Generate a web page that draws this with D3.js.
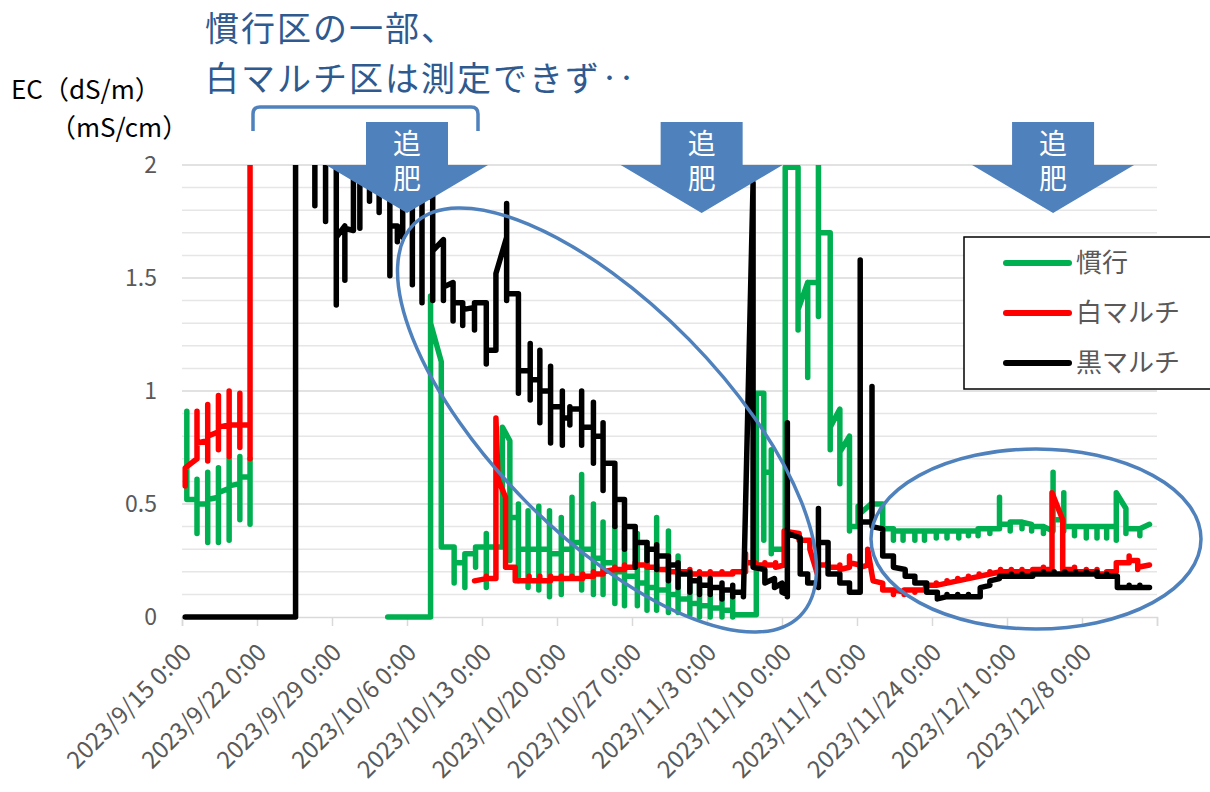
<!DOCTYPE html>
<html><head><meta charset="utf-8">
<script src="https://cdn.jsdelivr.net/npm/d3@7"></script>
<style>
body{margin:0;background:#fff;}
svg{display:block;font-family:"Noto Sans CJK JP","Noto Sans",sans-serif;}
</style>
</head><body>
<svg id="chart" width="1210" height="792"></svg>
<script>
// ---------- data ----------
const startDate = new Date(2023, 8, 15);
const endDate = new Date(2023, 11, 15);
const tickLabels = ["2023/9/15 0:00","2023/9/22 0:00","2023/9/29 0:00","2023/10/6 0:00","2023/10/13 0:00","2023/10/20 0:00","2023/10/27 0:00","2023/11/3 0:00","2023/11/10 0:00","2023/11/17 0:00","2023/11/24 0:00","2023/12/1 0:00","2023/12/8 0:00"];
const yTickValues = [0, 0.5, 1, 1.5, 2];
const yTitle = ["EC（dS/m）", "（mS/cm）"];
const seriesNames = ["慣行", "白マルチ", "黒マルチ"];
const seriesColors = ["#00B050", "#FF0000", "#000000"];
const noteLines = ["慣行区の一部、", "白マルチ区は測定できず‥"];
const arrowLabel = "追肥";
const arrowDays = [21, 48.5, 81.3]; // 追肥 timing (days after 9/15)

// each entry: [day offset from 9/15, values visited at that time...]; null = gap
const kanko = [
 [0.45, 0.91, 0.52],
 [1.4, 0.52, 0.61, 0.37, 0.50],
 [2.4, 0.50, 0.64, 0.33, 0.52],
 [3.4, 0.53, 0.66, 0.33, 0.55],
 [4.4, 0.57, 0.70, 0.34, 0.58],
 [5.4, 0.59, 0.71, 0.43, 0.62],
 [6.35, 0.62, 0.41, 0.70],
 null,
 [19.2, 0],
 [23.2, 0, 1.42, 0.55, 1.30],
 [24.2, 1.13, 0.31],
 [25.4, 0.31, 0.15, 0.24],
 [26.4, 0.24, 0.13, 0.28],
 [27.4, 0.28, 0.22, 0.31],
 [28.4, 0.31, 0.37, 0.13, 0.31],
 [29.9, 0.31, 0.84],
 [30.6, 0.78, 0.25, 0.44],
 [31.4, 0.44, 0.50, 0.16, 0.30],
 [32.3, 0.30, 0.47, 0.13, 0.30],
 [33.3, 0.30, 0.49, 0.12, 0.30],
 [34.3, 0.30, 0.47, 0.09, 0.28],
 [35.4, 0.28, 0.44, 0.10, 0.30],
 [36.4, 0.30, 0.53, 0.18, 0.33],
 [37.3, 0.33, 0.63, 0.12, 0.30],
 [38.4, 0.30, 0.50, 0.10, 0.26],
 [39.3, 0.26, 0.42, 0.10, 0.24],
 [40.4, 0.24, 0.40, 0.06, 0.20],
 [41.3, 0.20, 0.38, 0.05, 0.18],
 [42.5, 0.18, 0.37, 0.05, 0.15],
 [43.4, 0.15, 0.33, 0.03, 0.13],
 [44.3, 0.13, 0.44, 0.03, 0.12],
 [45.4, 0.12, 0.38, 0.02, 0.10],
 [46.3, 0.10, 0.27, 0.02, 0.08],
 [47.4, 0.08, 0.19, 0.01, 0.06],
 [48.3, 0.06, 0.15, 0.0, 0.05],
 [49.3, 0.05, 0.13, 0.0, 0.04],
 [50.4, 0.04, 0.12, 0.0, 0.03],
 [51.4, 0.03, 0.09, 0.0, 0.01],
 [53.6, 0.01, 0.99],
 [54.3, 0.99, 0.34, 0.64],
 [55.0, 0.64, 0.74, 0.28, 0.30],
 [56.3, 0.30, 1.99],
 [57.5, 1.99, 1.27, 1.36],
 [58.4, 1.48, 1.06, 1.48],
 [59.4, 1.48, 2.1, 1.33, 1.70],
 [60.5, 1.70, 0.74, 0.84],
 [61.4, 0.92, 0.59, 0.73],
 [62.3, 0.80, 0.38, 0.40],
 [63.1, 0.40, 0.49, 0.45],
 [64.3, 0.50],
 [65.4, 0.50, 0.39],
 [66.4, 0.39, 0.34, 0.38],
 [67.3, 0.38, 0.34, 0.38],
 [68.4, 0.38, 0.34, 0.38],
 [69.3, 0.38, 0.34, 0.38],
 [70.4, 0.38, 0.35, 0.38],
 [71.4, 0.38, 0.35, 0.38],
 [72.5, 0.38, 0.35, 0.38],
 [73.4, 0.38, 0.36, 0.38],
 [74.3, 0.38, 0.36, 0.39],
 [75.4, 0.39, 0.37, 0.39],
 [76.3, 0.39, 0.53, 0.41],
 [77.3, 0.41, 0.38, 0.42],
 [78.4, 0.42, 0.39, 0.42],
 [79.3, 0.41, 0.38, 0.40],
 [80.4, 0.40, 0.37, 0.40],
 [81.3, 0.38, 0.64, 0.43],
 [82.3, 0.43, 0.55, 0.38, 0.40],
 [83.3, 0.40, 0.36, 0.40],
 [84.4, 0.40, 0.35, 0.40],
 [85.4, 0.40, 0.35, 0.40],
 [86.3, 0.40, 0.35, 0.40],
 [87.2, 0.40, 0.34, 0.55],
 [88.1, 0.48, 0.37, 0.39],
 [89.4, 0.39, 0.36, 0.39],
 [90.3, 0.41]
];

const shiro = [
 [0.3, 0.58, 0.66],
 [1.4, 0.70, 0.91, 0.70, 0.77],
 [2.4, 0.78, 0.94, 0.69, 0.80],
 [3.4, 0.82, 0.98, 0.74, 0.84],
 [4.4, 0.85, 1.0, 0.71, 0.85],
 [5.4, 0.85, 0.99, 0.75, 0.85],
 [6.35, 0.85, 0.70, 2.1],
 null,
 [27.3, 0.16],
 [28.4, 0.17, 0.18, 0.17],
 [29.3, 0.17, 0.88],
 [29.5, 0.61],
 [30.2, 0.53, 0.22],
 [31.1, 0.22, 0.16],
 [32.4, 0.16, 0.18, 0.16],
 [33.4, 0.16, 0.18, 0.16],
 [34.4, 0.16, 0.18, 0.17],
 [35.4, 0.17, 0.18, 0.17],
 [36.4, 0.17, 0.18, 0.17],
 [37.4, 0.17, 0.19, 0.18],
 [38.4, 0.18, 0.20, 0.19],
 [39.3, 0.19, 0.21, 0.20],
 [40.4, 0.21, 0.22, 0.21],
 [41.3, 0.21, 0.23, 0.22],
 [42.3, 0.22, 0.24, 0.23],
 [43.4, 0.23, 0.24, 0.22],
 [44.3, 0.22, 0.23, 0.21],
 [45.4, 0.21, 0.22, 0.20],
 [46.3, 0.20, 0.21, 0.20],
 [47.4, 0.20, 0.21, 0.19],
 [48.3, 0.19, 0.20, 0.19],
 [49.3, 0.19, 0.20, 0.19],
 [50.4, 0.19, 0.20, 0.19],
 [51.4, 0.19, 0.20, 0.20],
 [52.6, 0.20, 0.28, 0.24],
 [53.5, 0.24, 0.23],
 [54.4, 0.23, 0.24, 0.23],
 [55.4, 0.23, 0.24, 0.22],
 [56.2, 0.23, 0.38],
 [57.6, 0.37, 0.34],
 [58.6, 0.34, 0.30],
 [59.3, 0.19, 0.23],
 [60.3, 0.23, 0.24, 0.22],
 [61.4, 0.22, 0.23, 0.21],
 [62.3, 0.22, 0.27, 0.24],
 [63.3, 0.23, 0.22],
 [64.0, 0.23, 0.30],
 [64.5, 0.16],
 [65.4, 0.15, 0.12],
 [66.4, 0.12, 0.10, 0.12],
 [67.4, 0.11, 0.10, 0.12],
 [68.4, 0.12, 0.11, 0.12],
 [69.4, 0.12, 0.14],
 [70.4, 0.14, 0.15, 0.14],
 [71.4, 0.15, 0.16, 0.15],
 [72.4, 0.16, 0.17, 0.16],
 [73.4, 0.17, 0.18, 0.17],
 [74.4, 0.18, 0.19, 0.18],
 [75.4, 0.19, 0.20, 0.19],
 [76.4, 0.20, 0.21, 0.20],
 [77.4, 0.20, 0.21, 0.20],
 [78.4, 0.20, 0.21, 0.20],
 [79.4, 0.20, 0.21, 0.21],
 [80.4, 0.21, 0.22, 0.21],
 [81.2, 0.21, 0.55],
 [82.2, 0.43, 0.21],
 [83.3, 0.21, 0.22, 0.20],
 [84.4, 0.20, 0.21, 0.20],
 [85.4, 0.20, 0.21, 0.19],
 [86.3, 0.19, 0.20, 0.20],
 [87.2, 0.20, 0.24],
 [88.4, 0.24, 0.27, 0.25],
 [89.2, 0.25, 0.21, 0.22],
 [90.3, 0.23]
];

const kuro = [
 [0.3, 0],
 [10.6, 0, 2.1],
 [12.4, 2.1, 1.82, 2.1],
 [13.4, 2.1, 1.75, 2.1],
 [14.4, 2.1, 1.38, 1.68],
 [15.2, 1.73, 1.49, 1.72],
 [16.0, 1.71, 2.1],
 [16.6, 2.1, 1.72, 2.1],
 [17.5, 2.1, 1.84, 2.1],
 [18.4, 2.1, 1.79, 2.1],
 [19.4, 2.1, 1.51, 1.73],
 [20.1, 1.73, 1.66, 1.72],
 [20.6, 1.72, 2.1, 1.68, 2.1],
 [21.5, 2.1, 1.47, 2.1],
 [22.4, 2.1, 1.39, 1.86],
 [23.4, 1.86, 1.40, 1.62],
 [24.4, 1.67, 1.40, 1.46],
 [25.3, 1.48, 1.31, 1.39],
 [26.2, 1.39, 1.29, 1.36],
 [27.3, 1.37, 1.27, 1.39],
 [28.4, 1.39, 1.12, 1.18],
 [29.3, 1.18, 1.52],
 [30.3, 1.68, 1.83, 1.40, 1.43],
 [31.4, 1.43, 0.99, 1.09],
 [32.5, 1.09, 1.21, 0.96, 1.05],
 [33.4, 1.05, 1.18, 0.86, 1.00],
 [34.4, 1.00, 1.11, 0.77, 0.93],
 [35.5, 0.93, 1.00, 0.76, 0.88],
 [36.2, 0.88, 0.93, 0.85, 0.92],
 [37.3, 0.92, 1.00, 0.76, 0.84],
 [38.4, 0.84, 0.95, 0.68, 0.80],
 [39.3, 0.80, 0.86, 0.56, 0.68],
 [40.4, 0.68, 0.68, 0.40, 0.52],
 [41.3, 0.52, 0.50, 0.30, 0.40],
 [42.3, 0.40, 0.40, 0.22, 0.33],
 [43.4, 0.33, 0.33, 0.25, 0.30],
 [44.3, 0.30, 0.32, 0.21, 0.27],
 [45.4, 0.27, 0.27, 0.16, 0.23],
 [46.3, 0.23, 0.24, 0.13, 0.19],
 [47.4, 0.19, 0.20, 0.11, 0.16],
 [48.3, 0.16, 0.17, 0.10, 0.14],
 [49.3, 0.14, 0.17, 0.10, 0.13],
 [50.4, 0.13, 0.15, 0.08, 0.12],
 [51.4, 0.12, 0.14, 0.09, 0.11],
 [52.4, 0.11, 0.12, 0.09],
 [53.3, 1.92, 0.22],
 [54.4, 0.21, 0.15],
 [55.3, 0.17, 0.13],
 [56.0, 0.15, 0.11],
 [56.5, 0.10, 0.86, 0.09, 0.37],
 [57.7, 0.35, 0.19],
 [58.4, 0.19, 0.15],
 [59.4, 0.15, 0.48, 0.13, 0.33],
 [60.3, 0.33, 0.19],
 [61.4, 0.19, 0.15],
 [62.3, 0.15, 0.11],
 [63.3, 0.11, 1.58, 0.11, 0.42],
 [64.4, 0.42, 1.02, 0.40],
 [65.4, 0.39, 0.27],
 [66.4, 0.27, 0.22],
 [67.5, 0.21, 0.18],
 [68.4, 0.18, 0.15],
 [69.5, 0.15, 0.11],
 [70.5, 0.11, 0.08],
 [71.4, 0.09, 0.10, 0.09],
 [72.4, 0.09, 0.10, 0.09],
 [73.4, 0.09, 0.10, 0.09],
 [74.5, 0.09, 0.13],
 [75.4, 0.14, 0.16],
 [76.3, 0.17, 0.18],
 [77.4, 0.18, 0.19, 0.18],
 [78.4, 0.18, 0.19, 0.18],
 [79.4, 0.18, 0.19, 0.19],
 [80.4, 0.19, 0.20, 0.19],
 [81.4, 0.19, 0.20, 0.19],
 [82.4, 0.19, 0.20, 0.19],
 [83.4, 0.19, 0.20, 0.19],
 [84.4, 0.19, 0.20, 0.19],
 [85.4, 0.19, 0.20, 0.18],
 [86.3, 0.18, 0.19, 0.18],
 [87.3, 0.18, 0.13],
 [88.4, 0.13, 0.14, 0.13],
 [89.4, 0.13, 0.14, 0.13],
 [90.3, 0.13]
];

// ---------- chart ----------
const svg = d3.select("#chart");
const W = 1210, H = 792;
svg.append("rect").attr("width", W).attr("height", H).attr("fill", "#fff");

const x = d3.scaleTime().domain([startDate, endDate]).range([182, 1157]);
const y = d3.scaleLinear().domain([0, 2]).range([617, 165]);
const dayToDate = d => new Date(startDate.getTime() + d * 864e5);

// gridlines every 0.1
const gridVals = d3.range(1, 21).map(i => i / 10);
svg.append("g").selectAll("line").data(gridVals).join("line")
  .attr("x1", x.range()[0]).attr("x2", x.range()[1])
  .attr("y1", d => y(d)).attr("y2", d => y(d))
  .attr("stroke", (d, i) => ((i + 1) % 5 === 0) ? "#d9d9d9" : "#e6e6e6")
  .attr("stroke-width", 1.5);

// x axis
const tickDates = tickLabels.map((_, i) => d3.timeDay.offset(startDate, 7 * i)).concat([endDate]);
const xAxis = d3.axisBottom(x).tickValues(tickDates).tickSize(9).tickFormat(() => "");
const gx = svg.append("g").attr("transform", `translate(0,${y(0)})`).call(xAxis);
gx.select(".domain").attr("stroke", "#d9d9d9").attr("stroke-width", 1.5);
gx.selectAll(".tick line").attr("stroke", "#d9d9d9").attr("stroke-width", 1.5);
svg.append("g").selectAll("text").data(tickLabels).join("text")
  .attr("transform", (d, i) => `translate(${x(tickDates[i]) + 11},654) rotate(-45)`)
  .attr("text-anchor", "end")
  .attr("font-size", 24)
  .attr("fill", "#595959")
  .text(d => d);

// y labels
svg.append("g").selectAll("text").data(yTickValues).join("text")
  .attr("x", 157).attr("y", d => y(d)).attr("dy", "0.36em")
  .attr("text-anchor", "end").attr("font-size", 23).attr("fill", "#595959")
  .text(d => d3.format("~g")(d));

// y title
svg.append("text").attr("x", 11).attr("y", 99).attr("font-size", 26).attr("fill", "#000").text(yTitle[0]);
svg.append("text").attr("x", 50).attr("y", 137).attr("font-size", 26).attr("fill", "#000").text(yTitle[1]);

// series
const clip = svg.append("defs").append("clipPath").attr("id", "plotclip");
clip.append("rect").attr("x", 160).attr("y", y(2)).attr("width", 1020).attr("height", y(0) - y(2) + 20);

function expand(arr) {
  const pts = [];
  arr.forEach(e => {
    if (e === null) { pts.push(null); return; }
    const t = dayToDate(e[0]);
    for (let k = 1; k < e.length; k++) pts.push({ t, v: e[k] });
  });
  return pts;
}
const line = d3.line().defined(p => p !== null).x(p => x(p.t)).y(p => y(p.v));
const seriesData = [kanko, shiro, kuro];
const gs = svg.append("g").attr("clip-path", "url(#plotclip)");
seriesData.forEach((s, i) => {
  gs.append("path").datum(expand(s))
    .attr("d", line).attr("fill", "none")
    .attr("stroke", seriesColors[i]).attr("stroke-width", 5.5)
    .attr("stroke-linejoin", "round").attr("stroke-linecap", "round");
});

// ellipses
const blue = "#4F81BD";
svg.append("ellipse").attr("cx", 607).attr("cy", 420).attr("rx", 275).attr("ry", 115)
  .attr("transform", "rotate(45.5,607,420)")
  .attr("fill", "none").attr("stroke", blue).attr("stroke-width", 3.5);
svg.append("ellipse").attr("cx", 1036).attr("cy", 539).attr("rx", 165).attr("ry", 90)
  .attr("fill", "none").attr("stroke", blue).attr("stroke-width", 3.5);

// arrows (追肥) with vertical label
arrowDays.forEach(d => {
  const cx = x(dayToDate(d));
  const pts = [[cx - 41, 122], [cx + 41, 122], [cx + 41, 165], [cx + 81, 165], [cx, 213], [cx - 81, 165], [cx - 41, 165]];
  svg.append("polygon").attr("points", pts.map(p => p.join(",")).join(" ")).attr("fill", blue);
  svg.append("text")
    .attr("x", cx).attr("y", 164)
    .attr("text-anchor", "middle")
    .style("writing-mode", "vertical-rl")
    .style("letter-spacing", "7px")
    .attr("font-size", 28).attr("fill", "#fff")
    .text(arrowLabel);
});

// bracket
svg.append("path")
  .attr("d", "M253,131 V114 Q253,107 260,107 H471 Q478,107 478,114 V131")
  .attr("fill", "none").attr("stroke", blue).attr("stroke-width", 3.5);

// note text
svg.append("text").attr("x", 205).attr("y", 41).attr("font-size", 34)
  .style("letter-spacing", "2px").attr("fill", "#2F5A8F").text(noteLines[0]);
svg.append("text").attr("x", 205).attr("y", 91).attr("font-size", 34)
  .style("letter-spacing", "2px").attr("fill", "#2F5A8F").text(noteLines[1]);

// legend
const lg = svg.append("g");
lg.append("rect").attr("x", 964).attr("y", 237).attr("width", 260).attr("height", 152)
  .attr("fill", "#fff").attr("stroke", "#000").attr("stroke-width", 1.5);
seriesNames.forEach((n, i) => {
  const ly = 263 + i * 50;
  lg.append("line").attr("x1", 1006).attr("x2", 1069).attr("y1", ly).attr("y2", ly)
    .attr("stroke", seriesColors[i]).attr("stroke-width", 6).attr("stroke-linecap", "round");
  lg.append("text").attr("x", 1076).attr("y", ly).attr("dy", "0.36em")
    .attr("font-size", 26).attr("fill", "#595959").text(n);
});
</script>
</body></html>
